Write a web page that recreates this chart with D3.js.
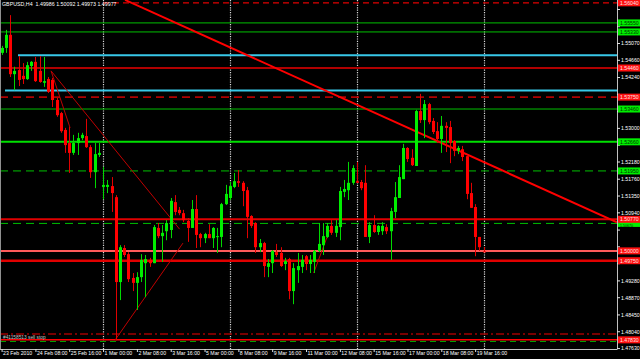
<!DOCTYPE html>
<html><head><meta charset="utf-8">
<script src="https://cdn.jsdelivr.net/npm/d3@7"></script>
<style>html,body{margin:0;padding:0;background:#000;overflow:hidden}svg{display:block}</style>
</head><body><svg id="c" width="640" height="359"></svg>
<script>
// ---- DATA (GBPUSD H4, bars from 23 Feb 2010 00:00) ----
const opens = [1.5483,1.5495,1.5527,1.5431,1.5441,1.5427,1.5419,1.5451,1.5461,1.5439,
1.5410,1.5419,1.5417,1.5368,1.5336,1.5295,1.5263,1.5239,1.5263,1.5275,
1.5280,1.5253,1.5192,1.5234,1.5156,1.5156,1.5158,1.5131,1.4924,1.5007,
1.4992,1.4934,1.4922,1.4936,1.4970,1.4978,1.4970,1.5056,1.5036,1.5048,
1.5051,1.5119,1.5100,1.5092,1.5073,1.5056,1.5102,1.5041,1.5031,1.5041,
1.5031,1.5034,1.5034,1.5114,1.5129,1.5156,1.5170,1.5166,1.5148,1.5085,
1.5068,1.5009,1.5019,1.4961,1.4970,1.4997,1.4995,1.4968,1.4980,1.4902,
1.4953,1.4961,1.4987,1.4968,1.4973,1.5000,1.5014,1.5034,1.5061,1.5044,
1.5058,1.5144,1.5148,1.5166,1.5170,1.5168,1.5166,1.5034,1.5063,1.5046,
1.5048,1.5058,1.5048,1.5095,1.5129,1.5175,1.5251,1.5227,1.5207,1.5341,
1.5319,1.5358,1.5317,1.5292,1.5273,1.5305,1.5302,1.5268,1.5244,1.5248,
1.5231,1.5141,1.5107,1.5034,1.49986];
const highs = [1.5500,1.5539,1.5575,1.5449,1.5475,1.5458,1.5461,1.5463,1.5473,1.5475,
1.5473,1.5424,1.5422,1.5373,1.5339,1.5300,1.5302,1.5283,1.5288,1.5288,
1.5322,1.5258,1.5263,1.5263,1.5205,1.5173,1.5180,1.5136,1.5014,1.5014,
1.4997,1.4946,1.4948,1.4992,1.4990,1.4983,1.5063,1.5068,1.5063,1.5075,
1.5129,1.5136,1.5107,1.5100,1.5080,1.5124,1.5136,1.5044,1.5044,1.5065,
1.5058,1.5056,1.5117,1.5161,1.5168,1.5190,1.5197,1.5170,1.5156,1.5087,
1.5070,1.5029,1.5022,1.4980,1.5002,1.5017,1.5009,1.4983,1.4983,1.4970,
1.4995,1.4990,1.4990,1.4990,1.5002,1.5068,1.5068,1.5068,1.5075,1.5075,
1.5156,1.5173,1.5217,1.5209,1.5217,1.5173,1.5209,1.5070,1.5087,1.5063,
1.5070,1.5065,1.5105,1.5168,1.5209,1.5261,1.5253,1.5248,1.5344,1.5383,
1.5368,1.5361,1.5324,1.5314,1.5329,1.5314,1.5317,1.5270,1.5256,1.5256,
1.5231,1.5166,1.5114,1.5034,1.50092];
const lows = [1.5478,1.5483,1.5424,1.5392,1.5402,1.5407,1.5417,1.5439,1.5412,1.5410,
1.5400,1.5385,1.5351,1.5327,1.5288,1.5239,1.5190,1.5234,1.5234,1.5270,
1.5251,1.5178,1.5153,1.5229,1.5126,1.5141,1.5095,1.4782,1.4880,1.4985,
1.4924,1.4902,1.4856,1.4924,1.4887,1.4961,1.4970,1.5031,1.4973,1.5026,
1.5031,1.5087,1.5087,1.5070,1.5022,1.5056,1.5007,1.5009,1.5019,1.5031,
1.5007,1.4995,1.5009,1.5112,1.5124,1.5153,1.5156,1.5109,1.5031,1.5056,
1.4995,1.4997,1.4936,1.4936,1.4946,1.4985,1.4961,1.4953,1.4882,1.4870,
1.4922,1.4946,1.4953,1.4946,1.4946,1.4997,1.4990,1.5031,1.5039,1.5034,
1.5026,1.5131,1.5124,1.5161,1.5166,1.5148,1.5034,1.5019,1.5044,1.5039,
1.5039,1.5041,1.4978,1.5080,1.5129,1.5175,1.5217,1.5207,1.5207,1.5312,
1.5275,1.5309,1.5285,1.5263,1.5239,1.5241,1.5214,1.5231,1.5236,1.5219,
1.5126,1.5105,1.4987,1.5000,1.49973];
const closes = [1.5495,1.5527,1.5431,1.5439,1.5417,1.5419,1.5453,1.5461,1.5414,1.5412,
1.5414,1.5388,1.5368,1.5331,1.5292,1.5258,1.5239,1.5263,1.5275,1.5283,
1.5253,1.5192,1.5236,1.5239,1.5161,1.5161,1.5141,1.4924,1.5009,1.4990,
1.4931,1.4922,1.4936,1.4978,1.4980,1.4970,1.5058,1.5036,1.5044,1.5068,
1.5122,1.5095,1.5092,1.5075,1.5056,1.5102,1.5039,1.5031,1.5041,1.5031,
1.5056,1.5036,1.5114,1.5139,1.5158,1.5170,1.5166,1.5146,1.5083,1.5061,
1.5009,1.5019,1.4963,1.4970,1.5000,1.4990,1.4963,1.4975,1.4902,1.4958,
1.4963,1.4978,1.4968,1.4978,1.5000,1.5017,1.5036,1.5061,1.5044,1.5061,
1.5146,1.5151,1.5166,1.5202,1.5166,1.5153,1.5034,1.5063,1.5046,1.5061,
1.5061,1.5048,1.5097,1.5131,1.5180,1.5251,1.5224,1.5209,1.5341,1.5319,
1.5358,1.5314,1.5290,1.5273,1.5305,1.5300,1.5263,1.5244,1.5251,1.5229,
1.5139,1.5105,1.5034,1.5009,1.49977];

const xTickBars = [0,8,16,24,32,40,48,56,64,72,80,88,96,104,112];
const xTickLabels = ["23 Feb 2010","24 Feb 08:00","25 Feb 16:00","1 Mar 00:00","2 Mar 08:00",
"3 Mar 16:00","5 Mar 00:00","8 Mar 08:00","9 Mar 16:00","11 Mar 00:00","12 Mar 08:00",
"15 Mar 16:00","17 Mar 00:00","18 Mar 08:00","19 Mar 16:00"];
const yTickValues = [1.55900,1.55480,1.55070,1.54660,1.54240,1.53830,1.53410,1.53000,1.52590,
1.52180,1.51760,1.51350,1.50940,1.50520,1.50110,1.49700,1.49280,1.48870,1.48450,1.48040,1.47630];
const separatorBars = [24,54,84,114];

// horizontal levels and their price tags ("" = no tag)
const levelValues = [1.5605,1.5556,1.5534,1.5477,1.5446,1.5391,1.5375,1.5346,1.5266,1.5195,
1.5077,1.5067,1.5000,1.4976,1.4797,1.4783,1.4779];
const levelLabels = ["1.56040","1.55550","1.55330","","1.54460","","1.53750","1.53460","1.52660","1.51950",
"1.50770","1.50670","1.50000","1.49750","","1.47830",""];
// trend lines: [bar, price] -> [bar, price]
const trendStart = [[29.2,1.5612],[11.7,1.5439],[11.7,1.5439],[26.8,1.4782],[73.8,1.4946]];
const trendEnd   = [[100,1.5282],[42.1,1.5053],[16.2,1.5300],[42.9,1.5019],[77.6,1.5051]];

const headerText = "GBPUSD,H4  1.49986 1.50092 1.49973 1.49977";
const orderText = "#41158513 sell stop";

// ---- STYLES ----
const levelStyle = [
 {c:"#e00000",w:1.2,d:"6,4",x0:103},
 {c:"#00c000",w:1},
 {c:"#00c000",w:1},
 {c:"#38c8e8",w:2,x0:18},
 {c:"#b00000",w:2},
 {c:"#38c8e8",w:2,x0:5},
 {c:"#b00000",w:1.6,d:"8,5"},
 {c:"#00c000",w:1},
 {c:"#00e000",w:2},
 {c:"#00c000",w:1,d:"8,5"},
 {c:"#e00000",w:2},
 {c:"#00c000",w:1,d:"8,5"},
 {c:"#ff5a5a",w:2},
 {c:"#e00000",w:2.5},
 {c:"#a00000",w:1.5,d:"8,3,2,3"},
 {c:"#ff0000",w:1.5},
 {c:"#00a000",w:1,d:"6,4"}
];
const trendStyle = [
 {c:"#ff0000",w:2,ray:true},
 {c:"#c00000",w:1},
 {c:"#c00000",w:1},
 {c:"#c00000",w:1},
 {c:"#c00000",w:1}
];

const PR = 617, PB = 349;
const svg = d3.select("#c");
svg.append("rect").attr("width",640).attr("height",359).attr("fill","#000");

const x = d3.scaleLinear().domain([0,114]).range([1.6, 483.6]);
const y = d3.scaleLinear().domain([1.47607,1.56119]).range([PB,0]);

svg.append("defs").append("clipPath").attr("id","clip")
  .append("rect").attr("x",0).attr("y",0).attr("width",PR).attr("height",PB);
const plot = svg.append("g").attr("clip-path","url(#clip)");

// separators
plot.selectAll("line.sep").data(separatorBars).join("line")
  .attr("x1",d=>Math.round(x(d))+0.5).attr("x2",d=>Math.round(x(d))+0.5)
  .attr("y1",0).attr("y2",PB)
  .attr("stroke","#d8d8d8").attr("stroke-width",1.2).attr("stroke-dasharray","1.2,1.2");

// levels
plot.selectAll("line.lvl").data(levelValues).join("line")
  .attr("x1",(d,i)=>levelStyle[i].x0||0).attr("x2",PR)
  .attr("y1",d=>y(d)).attr("y2",d=>y(d))
  .attr("stroke",(d,i)=>levelStyle[i].c)
  .attr("stroke-width",(d,i)=>levelStyle[i].w)
  .attr("stroke-dasharray",(d,i)=>levelStyle[i].d||null);

// trend lines
trendStart.forEach((s,i)=>{
  const e = trendEnd[i], st = trendStyle[i];
  let ex = e[0], ey = e[1];
  if (st.ray) {
    const slope = (e[1]-s[1])/(e[0]-s[0]);
    ex = x.invert(PR);
    ey = s[1] + slope*(ex - s[0]);
  }
  plot.append("line")
    .attr("x1",x(s[0])).attr("y1",y(s[1]))
    .attr("x2",x(ex)).attr("y2",y(ey))
    .attr("stroke",st.c).attr("stroke-width",st.w);
});

// candles
const idx = d3.range(opens.length);
const up = i => closes[i] >= opens[i];
const g = plot.append("g");
g.selectAll("line.wick").data(idx).join("line")
  .attr("x1",i=>Math.round(x(i))+0.5).attr("x2",i=>Math.round(x(i))+0.5)
  .attr("y1",i=>y(highs[i])).attr("y2",i=>y(lows[i]))
  .attr("stroke",i=>up(i)?"#00d800":"#e00000").attr("stroke-width",1);
g.selectAll("rect.body").data(idx).join("rect")
  .attr("x",i=>Math.round(x(i))-1).attr("width",3)
  .attr("y",i=>y(Math.max(opens[i],closes[i])))
  .attr("height",i=>Math.max(1,y(Math.min(opens[i],closes[i]))-y(Math.max(opens[i],closes[i]))))
  .attr("fill",i=>up(i)?"#00ee00":"#ff0000");

// frame
svg.append("line").attr("x1",0.5).attr("x2",0.5).attr("y1",0).attr("y2",PB).attr("stroke","#909090");
svg.append("line").attr("x1",PR+0.5).attr("x2",PR+0.5).attr("y1",0).attr("y2",PB).attr("stroke","#c0c0c0");
svg.append("line").attr("x1",0).attr("x2",PR+0.5).attr("y1",PB+0.5).attr("y2",PB+0.5).attr("stroke","#c0c0c0");

const FONT = "Liberation Sans, Arial, sans-serif";
const tagYs = levelValues.filter((v,i)=>levelLabels[i]).map(v=>y(v));
const covered = v => tagYs.some(t=>Math.abs(t-y(v))<6.5);

// right axis
const ya = svg.append("g").attr("transform",`translate(${PR},0)`)
  .call(d3.axisRight(y).tickValues(yTickValues).tickFormat(d3.format(".5f")).tickSize(3).tickPadding(1));
ya.select(".domain").remove();
ya.selectAll(".tick line").attr("stroke","#e0e0e0");
ya.selectAll(".tick text").attr("fill","#ffffff").attr("font-size","5.2px").attr("font-family",FONT).attr("dy","0.35em")
  .attr("display",d=>covered(d)?"none":null);

// x axis
const xa = svg.append("g").attr("transform",`translate(0,${PB})`)
  .call(d3.axisBottom(x).tickValues(xTickBars).tickFormat((d,i)=>xTickLabels[i]).tickSize(3).tickPadding(1));
xa.select(".domain").remove();
xa.selectAll(".tick line").attr("stroke","#e0e0e0");
xa.selectAll(".tick text").attr("fill","#ffffff").attr("font-size","5.2px").attr("font-family",FONT)
  .attr("text-anchor","start").attr("x",1).attr("dy","0.75em").attr("y",2);

// price tags: green ones first, red ones on top (as in the terminal)
const tags = svg.append("g");
const tagOrder = d3.range(levelValues.length).filter(i=>levelLabels[i])
  .sort((a,b)=>(levelStyle[a].c.indexOf("#00")===0?0:1)-(levelStyle[b].c.indexOf("#00")===0?0:1));
tagOrder.forEach(i=>{
  const v = levelValues[i];
  const isGreen = levelStyle[i].c.indexOf("#00")===0;
  // a tag pushed under a neighbouring red tag shows only its lower part
  const squeezed = isGreen && tagYs.some(t=>t!==y(v) && Math.abs(t-y(v))<6.5);
  const fs = squeezed ? 3.6 : 5.2;
  const ty = squeezed ? y(v)+3.3 : y(v)+1.9;
  tags.append("rect").attr("x",PR+1).attr("y",y(v)-3.5).attr("width",640-PR).attr("height",7)
    .attr("fill", isGreen ? "#00ee00" : "#ff1010");
  tags.append("text").attr("x",PR+3).attr("y",ty).text(levelLabels[i])
    .attr("fill", isGreen ? "#003000" : "#ffe0e0").attr("font-size",fs+"px").attr("font-family",FONT);
});

// header & order text
svg.append("text").attr("x",2).attr("y",6).text(headerText)
  .attr("fill","#ffffff").attr("font-size","5.3px").attr("font-family",FONT).attr("xml:space","preserve");
svg.append("text").attr("x",3).attr("y",338.5).text(orderText)
  .attr("fill","#c8c8c8").attr("font-size","4.8px").attr("font-family",FONT);
</script>
</body></html>
